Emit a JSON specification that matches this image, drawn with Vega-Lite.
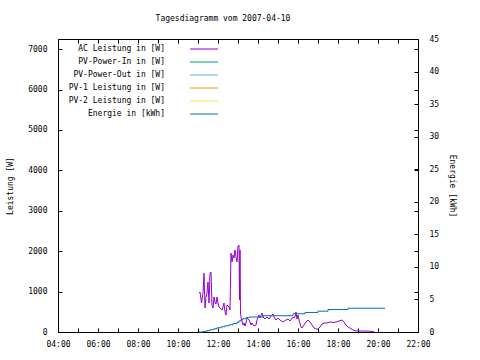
{
  "$schema": "https://vega.github.io/schema/vega-lite/v6.json",
  "width": 360,
  "height": 293,
  "autosize": {"type": "none"},
  "padding": {"left": 58, "top": 39, "right": 62, "bottom": 28},
  "background": "white",
  "title": {"text": "Tagesdiagramm vom 2007-04-10", "font": "DejaVu Sans Mono", "fontSize": 8, "fontWeight": "normal", "color": "black", "offset": 12, "dx": -15},
  "config": {
    "view": {"stroke": "black", "strokeWidth": 1},
    "axis": {"grid": false, "domain": false, "tickColor": "black", "tickSize": -4, "labelColor": "black", "labelFont": "DejaVu Sans Mono", "labelFontSize": 8, "titleFont": "DejaVu Sans Mono", "titleFontSize": 8, "titleFontWeight": "normal", "titleColor": "black", "labelOverlap": false, "labelFlush": false},
    "legend": {"orient": "none", "legendX": 140, "legendY": 4, "padding": 0, "rowPadding": 3, "labelAlign": "right", "labelOffset": -45, "symbolType": "M-2.55,0H2.55", "symbolSize": 121, "symbolStrokeWidth": 1, "labelFont": "DejaVu Sans Mono", "labelFontSize": 8, "labelColor": "black", "labelLimit": 300}
  },
  "datasets": {
    "ac": [
      {"t": 11.05, "w": 964}, {"t": 11.1, "w": 989}, {"t": 11.175, "w": 717}, {"t": 11.25, "w": 964},
      {"t": 11.3, "w": 1459}, {"t": 11.35, "w": 594}, {"t": 11.4, "w": 866}, {"t": 11.45, "w": 964},
      {"t": 11.5, "w": 1237}, {"t": 11.55, "w": 717}, {"t": 11.6, "w": 1459}, {"t": 11.65, "w": 1484},
      {"t": 11.7, "w": 668}, {"t": 11.75, "w": 594}, {"t": 11.8, "w": 866}, {"t": 11.85, "w": 742},
      {"t": 11.9, "w": 692}, {"t": 11.95, "w": 866}, {"t": 12.0, "w": 717}, {"t": 12.05, "w": 618},
      {"t": 12.1, "w": 594}, {"t": 12.2, "w": 544}, {"t": 12.25, "w": 618}, {"t": 12.3, "w": 717},
      {"t": 12.35, "w": 495}, {"t": 12.4, "w": 420}, {"t": 12.45, "w": 668}, {"t": 12.55, "w": 618},
      {"t": 12.6, "w": 544}, {"t": 12.65, "w": 1954}, {"t": 12.7, "w": 1731}, {"t": 12.75, "w": 1904},
      {"t": 12.8, "w": 1830}, {"t": 12.85, "w": 2028}, {"t": 12.9, "w": 1855}, {"t": 12.95, "w": 1731},
      {"t": 13.0, "w": 2127}, {"t": 13.05, "w": 2152}, {"t": 13.075, "w": 791}, {"t": 13.1, "w": 2028},
      {"t": 13.125, "w": 470}, {"t": 13.15, "w": 371}, {"t": 13.2, "w": 272}, {"t": 13.25, "w": 173},
      {"t": 13.3, "w": 223}, {"t": 13.35, "w": 148}, {"t": 13.4, "w": 223}, {"t": 13.45, "w": 346},
      {"t": 13.55, "w": 297}, {"t": 13.6, "w": 247}, {"t": 13.65, "w": 173}, {"t": 13.7, "w": 223},
      {"t": 13.8, "w": 148}, {"t": 13.9, "w": 173}, {"t": 13.95, "w": 297}, {"t": 14.05, "w": 420},
      {"t": 14.1, "w": 346}, {"t": 14.2, "w": 470}, {"t": 14.25, "w": 371}, {"t": 14.35, "w": 321},
      {"t": 14.45, "w": 371}, {"t": 14.55, "w": 321}, {"t": 14.65, "w": 396}, {"t": 14.75, "w": 445},
      {"t": 14.8, "w": 371}, {"t": 14.9, "w": 297}, {"t": 15.0, "w": 346}, {"t": 15.1, "w": 297},
      {"t": 15.25, "w": 247}, {"t": 15.4, "w": 297}, {"t": 15.5, "w": 321}, {"t": 15.6, "w": 272},
      {"t": 15.7, "w": 346}, {"t": 15.85, "w": 371}, {"t": 15.9, "w": 495}, {"t": 15.95, "w": 321},
      {"t": 16.0, "w": 420}, {"t": 16.05, "w": 297}, {"t": 16.15, "w": 124}, {"t": 16.2, "w": 99},
      {"t": 16.3, "w": 173}, {"t": 16.4, "w": 247}, {"t": 16.5, "w": 297}, {"t": 16.6, "w": 247},
      {"t": 16.7, "w": 173}, {"t": 16.8, "w": 99}, {"t": 16.9, "w": 74}, {"t": 17.0, "w": 74},
      {"t": 17.1, "w": 124}, {"t": 17.2, "w": 198}, {"t": 17.3, "w": 223}, {"t": 17.45, "w": 223},
      {"t": 17.6, "w": 247}, {"t": 17.75, "w": 235}, {"t": 17.9, "w": 247}, {"t": 18.05, "w": 272},
      {"t": 18.2, "w": 297}, {"t": 18.3, "w": 247}, {"t": 18.4, "w": 173}, {"t": 18.5, "w": 124},
      {"t": 18.6, "w": 99}, {"t": 18.75, "w": 49}, {"t": 18.9, "w": 25}, {"t": 19.35, "w": 25},
      {"t": 19.8, "w": 12}
    ],
    "energy": [
      {"t": 11.05, "kwh": 0}, {"t": 11.25, "kwh": 0.1}, {"t": 11.45, "kwh": 0.2}, {"t": 11.6, "kwh": 0.35},
      {"t": 11.8, "kwh": 0.5}, {"t": 11.95, "kwh": 0.65}, {"t": 12.15, "kwh": 0.8}, {"t": 12.35, "kwh": 0.95},
      {"t": 12.55, "kwh": 1.1}, {"t": 12.75, "kwh": 1.3}, {"t": 12.95, "kwh": 1.5}, {"t": 13.05, "kwh": 1.7},
      {"t": 13.15, "kwh": 1.9}, {"t": 13.25, "kwh": 2.05}, {"t": 13.4, "kwh": 2.2}, {"t": 13.55, "kwh": 2.3},
      {"t": 14.25, "kwh": 2.5}, {"t": 15.75, "kwh": 2.8}, {"t": 16.35, "kwh": 3.0}, {"t": 17.0, "kwh": 3.2},
      {"t": 17.5, "kwh": 3.45}, {"t": 18.5, "kwh": 3.65}, {"t": 20.35, "kwh": 3.65}
    ]
  },
  "layer": [
    {
      "data": {"name": "ac"},
      "mark": {"type": "line", "strokeWidth": 1},
      "encoding": {
        "x": {"field": "t", "type": "quantitative", "scale": {"domain": [4, 22], "nice": false, "zero": false},
              "axis": {"orient": "bottom", "title": null, "values": [4,5,6,7,8,9,10,11,12,13,14,15,16,17,18,19,20,21,22], "labelPadding": 12,
                       "labelExpr": "datum.value % 2 == 0 ? ((datum.value < 10 ? '0' : '') + datum.value + ':00') : ''"}},
        "y": {"field": "w", "type": "quantitative", "scale": {"domain": [0, 7250], "nice": false},
              "axis": {"orient": "left", "title": "Leistung [W]", "format": "d", "values": [0,1000,2000,3000,4000,5000,6000,7000], "labelPadding": 15, "titlePadding": 13}},
        "color": {"datum": "AC Leistung in [W]", "type": "nominal",
                  "scale": {"domain": ["AC Leistung in [W]", "PV-Power-In in [W]", "PV-Power-Out in [W]", "PV-1 Leistung in [W]", "PV-2 Leistung in [W]", "Energie in [kWh]"],
                            "range": ["#9400D3", "#009E73", "#56B4E9", "#E69F00", "#F0E442", "#0072B2"]},
                  "legend": {"title": null}}
      }
    },
    {
      "data": {"name": "energy"},
      "mark": {"type": "line", "strokeWidth": 1, "interpolate": "step-after"},
      "encoding": {
        "x": {"field": "t", "type": "quantitative", "scale": {"domain": [4, 22], "nice": false, "zero": false},
              "axis": {"orient": "top", "title": null, "labels": false, "values": [4,5,6,7,8,9,10,11,12,13,14,15,16,17,18,19,20,21,22]}},
        "y": {"field": "kwh", "type": "quantitative", "scale": {"domain": [0, 45], "nice": false},
              "axis": {"orient": "right", "title": "Energie [kWh]", "format": "d", "values": [0,5,10,15,20,25,30,35,40,45], "labelPadding": 15, "titlePadding": 9}},
        "color": {"datum": "Energie in [kWh]", "type": "nominal"}
      }
    },
    {
      "data": {"name": "ac"},
      "mark": {"type": "line", "strokeOpacity": 0},
      "encoding": {
        "x": {"field": "t", "type": "quantitative", "scale": {"domain": [4, 22], "nice": false, "zero": false}, "axis": null},
        "y": {"field": "w", "type": "quantitative", "scale": {"domain": [0, 7250], "nice": false},
              "axis": {"orient": "right", "title": null, "labels": false, "values": [0,1000,2000,3000,4000,5000,6000,7000]}}
      }
    }
  ],
  "resolve": {"scale": {"y": "independent"}, "axis": {"x": "independent"}}
}
